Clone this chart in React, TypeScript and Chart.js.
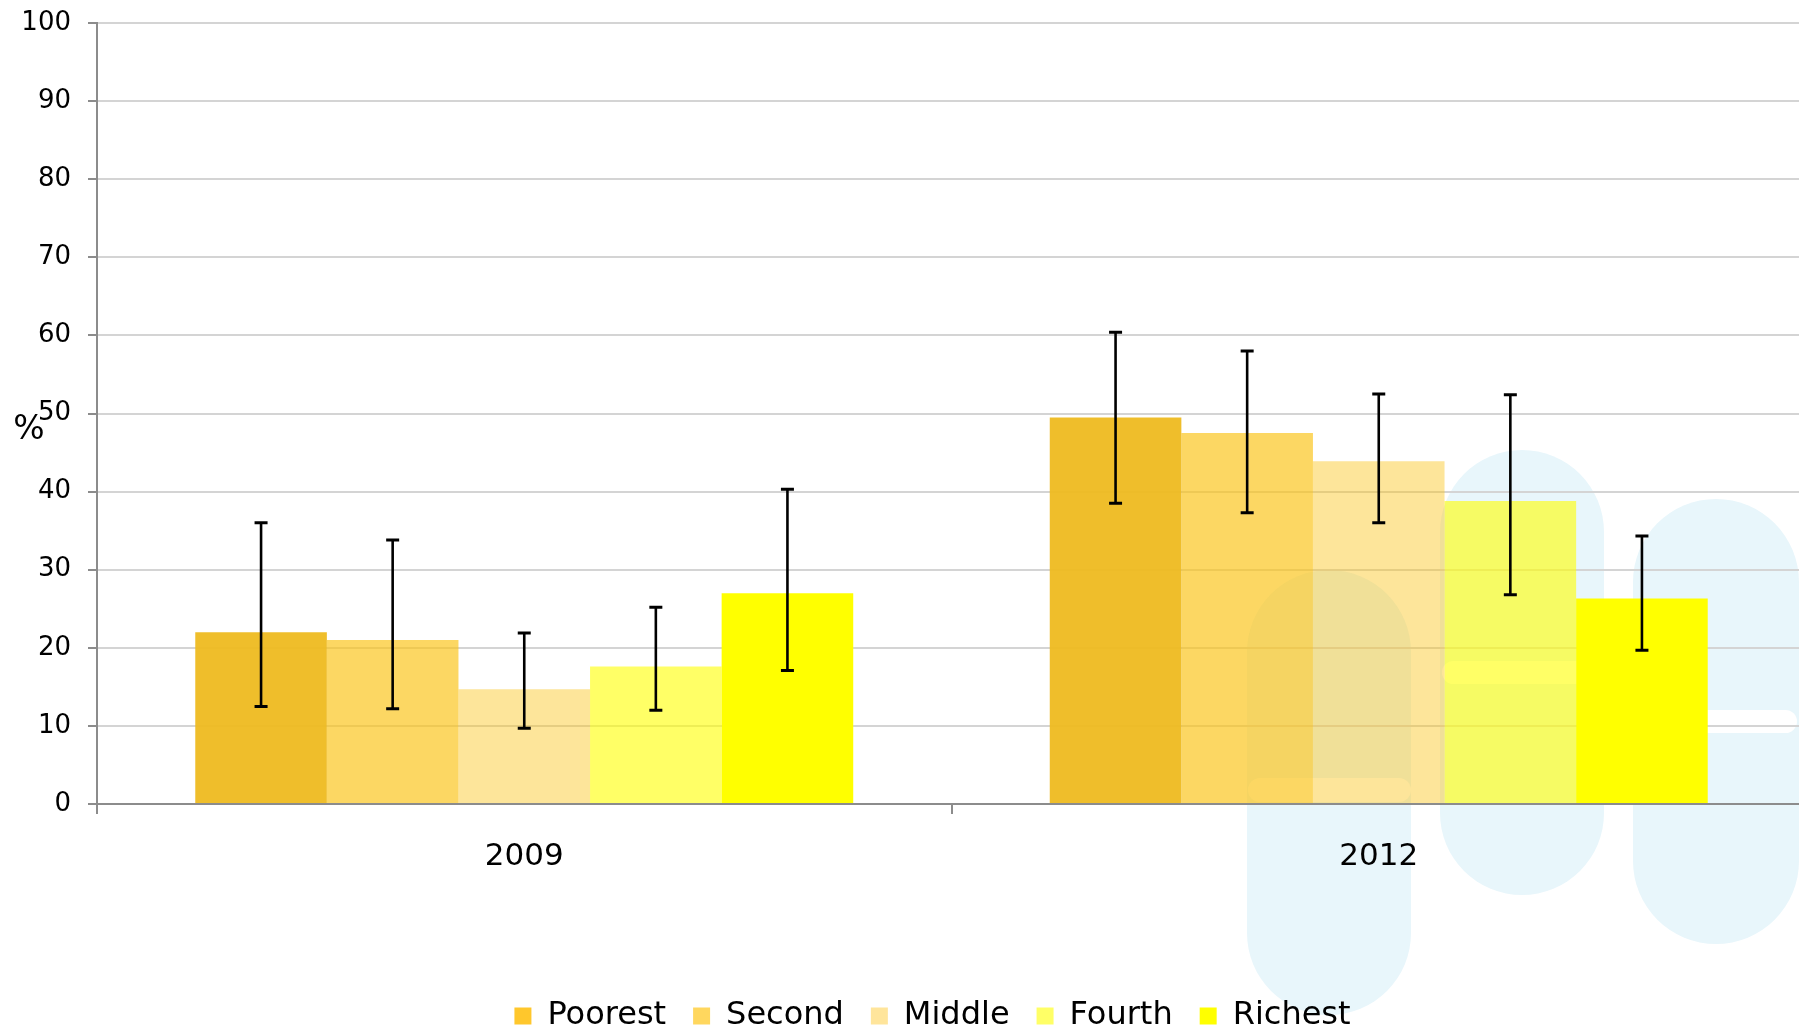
import React, { useEffect, useRef } from "react";
import { Chart, registerables } from "chart.js";

Chart.register(...registerables);

// ---- data ----
const CATEGORIES = ["2009", "2012"];
const SERIES = ["Poorest", "Second", "Middle", "Fourth", "Richest"];

const POOREST = [22.0, 49.5];
const SECOND = [21.0, 47.5];
const MIDDLE = [14.7, 43.9];
const FOURTH = [17.6, 38.8];
const RICHEST = [27.0, 26.3];

// confidence intervals [low, high] per category
const POOREST_CI = [[12.5, 36.0], [38.5, 60.4]];
const SECOND_CI = [[12.2, 33.8], [37.3, 58.0]];
const MIDDLE_CI = [[9.7, 21.9], [36.0, 52.5]];
const FOURTH_CI = [[12.0, 25.2], [26.8, 52.4]];
const RICHEST_CI = [[17.1, 40.3], [19.7, 34.3]];

const Y_MIN = 0;
const Y_MAX = 100;
const Y_STEP = 10;
const Y_TITLE = "%";

// ---- styles ----
const BAR_COLORS = [
  "rgba(238,186,30,0.94)",
  "rgba(251,195,23,0.67)",
  "rgba(251,195,23,0.435)",
  "rgba(255,255,0,0.6)",
  "rgba(255,255,0,1)",
];
const LEGEND_COLORS = ["#FFC72C", "#FFD75E", "#FFE59B", "#FFFF66", "#FFFF00"];
const FONT = "'DejaVu Sans', Verdana, sans-serif";
const LEGEND_SHIFT = -19;

const VALUES = [POOREST, SECOND, MIDDLE, FOURTH, RICHEST];
const CIS = [POOREST_CI, SECOND_CI, MIDDLE_CI, FOURTH_CI, RICHEST_CI];

const watermarkPlugin = {
  id: "watermark",
  beforeDraw(chart: any) {
    const ctx = chart.ctx;
    ctx.save();
    const pill = (x: number, y: number, w: number, h: number, color: string) => {
      const r = Math.min(w / 2, h / 2);
      ctx.beginPath();
      ctx.moveTo(x + r, y);
      ctx.lineTo(x + w - r, y);
      ctx.arc(x + w - r, y + r, r, -Math.PI / 2, 0);
      ctx.lineTo(x + w, y + h - r);
      ctx.arc(x + w - r, y + h - r, r, 0, Math.PI / 2);
      ctx.lineTo(x + r, y + h);
      ctx.arc(x + r, y + h - r, r, Math.PI / 2, Math.PI);
      ctx.lineTo(x, y + r);
      ctx.arc(x + r, y + r, r, Math.PI, Math.PI * 1.5);
      ctx.closePath();
      ctx.fillStyle = color;
      ctx.fill();
    };
    const blue = "#E8F6FB";
    pill(1247, 570, 164, 445, blue);
    pill(1440, 450, 164, 445, blue);
    pill(1633, 499, 166, 445, blue);
    pill(1442, 661, 162, 23, "#FFFFFF");
    pill(1640, 710, 157, 23, "#FFFFFF");
    pill(1248, 778, 163, 24, "#FFFFFF");
    ctx.restore();
  },
};

const legendShiftPlugin = {
  id: "legendShift",
  afterLayout(chart: any) {
    const lg = chart.legend;
    if (lg) {
      lg.left += LEGEND_SHIFT;
      lg.right += LEGEND_SHIFT;
    }
  },
};

const errorBarPlugin = {
  id: "errorBars",
  afterDatasetsDraw(chart: any) {
    const ctx = chart.ctx;
    const yScale = chart.scales.y;
    ctx.save();
    ctx.strokeStyle = "#000000";
    CIS.forEach((ci, di) => {
      const meta = chart.getDatasetMeta(di);
      meta.data.forEach((bar: any, j: number) => {
        const [lo, hi] = ci[j];
        const x = bar.x;
        const yLo = yScale.getPixelForValue(lo);
        const yHi = yScale.getPixelForValue(hi);
        ctx.lineWidth = 2.6;
        ctx.beginPath();
        ctx.moveTo(x, yLo);
        ctx.lineTo(x, yHi);
        ctx.stroke();
        ctx.lineWidth = 3;
        ctx.beginPath();
        ctx.moveTo(x - 6.5, yLo);
        ctx.lineTo(x + 6.5, yLo);
        ctx.moveTo(x - 6.5, yHi);
        ctx.lineTo(x + 6.5, yHi);
        ctx.stroke();
      });
    });
    ctx.restore();
  },
};

const yTitlePlugin = {
  id: "yTitle",
  afterDraw(chart: any) {
    const ctx = chart.ctx;
    const area = chart.chartArea;
    ctx.save();
    ctx.font = `33px ${FONT}`;
    ctx.fillStyle = "#000";
    ctx.textAlign = "center";
    ctx.textBaseline = "middle";
    ctx.fillText(Y_TITLE, 29, (area.top + area.bottom) / 2 + 17);
    ctx.restore();
  },
};

export default function App() {
  const canvasRef = useRef<HTMLCanvasElement | null>(null);

  useEffect(() => {
    const canvas = canvasRef.current;
    if (!canvas) return;
    const chart = new Chart(canvas, {
      type: "bar",
      data: {
        labels: CATEGORIES,
        datasets: SERIES.map((name, i) => ({
          label: name,
          data: VALUES[i],
          backgroundColor: BAR_COLORS[i],
          borderWidth: 0,
          categoryPercentage: 0.77,
          barPercentage: 1.0,
        })),
      },
      options: {
        animation: false,
        responsive: false,
        devicePixelRatio: 1,
        layout: { padding: { top: 0, left: 0, right: 0, bottom: 18 } },
        plugins: {
          tooltip: { enabled: false },
          legend: {
            position: "bottom",
            fullSize: false,
            labels: {
              boxWidth: 17,
              boxHeight: 17,
              padding: 27,
              color: "#000",
              font: { family: FONT, size: 32 },
              generateLabels: () =>
                SERIES.map((s, i) => ({
                  text: s,
                  fillStyle: LEGEND_COLORS[i],
                  strokeStyle: "rgba(0,0,0,0)",
                  lineWidth: 0,
                  hidden: false,
                  datasetIndex: i,
                  fontColor: "#000",
                })),
            },
          },
        },
        scales: {
          x: {
            type: "category",
            grid: {
              display: true,
              drawOnChartArea: false,
              drawTicks: true,
              tickLength: 10,
              tickColor: "#8C8C8C",
              lineWidth: 2,
              offset: true,
            },
            border: { display: true, color: "#8C8C8C", width: 2 },
            ticks: {
              color: "#000",
              font: { family: FONT, size: 31 },
              padding: 24,
              maxRotation: 0,
            },
            afterFit: (s: any) => {
              s.height = 169;
            },
          },
          y: {
            min: Y_MIN,
            max: Y_MAX,
            ticks: {
              stepSize: Y_STEP,
              color: "#000",
              font: { family: FONT, size: 26 },
              padding: 17,
            },
            grid: {
              color: "#D4D4D4",
              lineWidth: 2,
              tickLength: 9,
              tickColor: "#8C8C8C",
            },
            border: { display: true, color: "#8C8C8C", width: 2 },
            afterFit: (s: any) => {
              s.width = 97;
              s.paddingTop = 23;
              s.paddingBottom = 0;
            },
          },
        },
      },
      plugins: [watermarkPlugin, legendShiftPlugin, errorBarPlugin, yTitlePlugin],
    } as any);
    return () => chart.destroy();
  }, []);

  return (
    <div
      style={{
        position: "fixed",
        left: 0,
        top: 0,
        width: "1799px",
        height: "1029px",
        overflow: "hidden",
        background: "#FFFFFF",
      }}
    >
      <canvas
        ref={canvasRef}
        width={1806}
        height={1060}
        style={{ display: "block", width: "1806px", height: "1060px" }}
      />
    </div>
  );
}
